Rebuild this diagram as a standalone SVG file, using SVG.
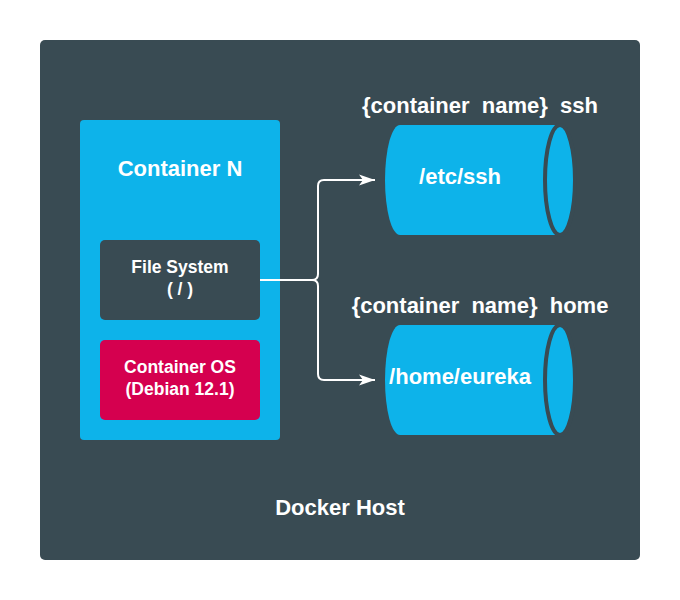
<svg xmlns="http://www.w3.org/2000/svg" width="680" height="600" viewBox="0 0 680 600">
<defs>
<style>
.t{font-family:"Liberation Sans",Arial,sans-serif;font-weight:bold;fill:#ffffff;text-anchor:middle;white-space:pre}
.big{font-size:22px}
.sm{font-size:17.5px}
.cyl{fill:#0db3ea}
.conn{fill:none;stroke:#ffffff;stroke-width:2}
</style>
<marker id="arr" markerUnits="userSpaceOnUse" markerWidth="18" markerHeight="12" refX="16" refY="6" orient="auto">
<path d="M0,0.5 L16,6 L0,11.5 L4,6 Z" fill="#ffffff"/>
</marker>
</defs>
<rect width="680" height="600" fill="#ffffff"/>
<g id="docker-host">
<rect x="40" y="40" width="600" height="520" rx="5" fill="#394b53"/>
<text class="t big" x="340" y="515">Docker Host</text>
</g>
<g id="container-n">
<rect x="80" y="120" width="200" height="320" rx="4" fill="#0db3ea"/>
<text class="t big" x="180" y="176">Container N</text>
</g>
<g id="file-system">
<rect x="100" y="240" width="160" height="80" rx="5" fill="#394b53"/>
<text class="t sm" x="180" y="273">File System</text>
<text class="t sm" x="180" y="295">( / )</text>
</g>
<g id="container-os">
<rect x="100" y="340" width="160" height="80" rx="5" fill="#d5004f"/>
<text class="t sm" x="180" y="372.5">Container OS</text>
<text class="t sm" x="180" y="394.5">(Debian 12.1)</text>
</g>
<g id="vol-ssh">
<text class="t big" x="480" y="113" xml:space="preserve">{container  name}  ssh</text>
<path class="cyl" d="M400,125 L560,125 A15,55 0 0 1 560,235 L400,235 A15,55 0 0 1 400,125 Z"/>
<ellipse cx="560" cy="180" rx="15" ry="55" fill="#0db3ea" stroke="#394b53" stroke-width="4"/>
<text class="t big" x="460" y="184">/etc/ssh</text>
</g>
<g id="vol-home">
<text class="t big" x="480" y="313" xml:space="preserve">{container  name}  home</text>
<path class="cyl" d="M400,325 L560,325 A15,55 0 0 1 560,435 L400,435 A15,55 0 0 1 400,325 Z"/>
<ellipse cx="560" cy="380" rx="15" ry="55" fill="#0db3ea" stroke="#394b53" stroke-width="4"/>
<text class="t big" x="460" y="384">/home/eureka</text>
</g>
<g id="connectors">
<path class="conn" d="M260,280 L312,280 Q318,280 318,274 L318,186 Q318,180 324,180 L375,180" marker-end="url(#arr)"/>
<path class="conn" d="M312,280 Q318,280 318,286 L318,374 Q318,380 324,380 L375,380" marker-end="url(#arr)"/>
</g>
</svg>
